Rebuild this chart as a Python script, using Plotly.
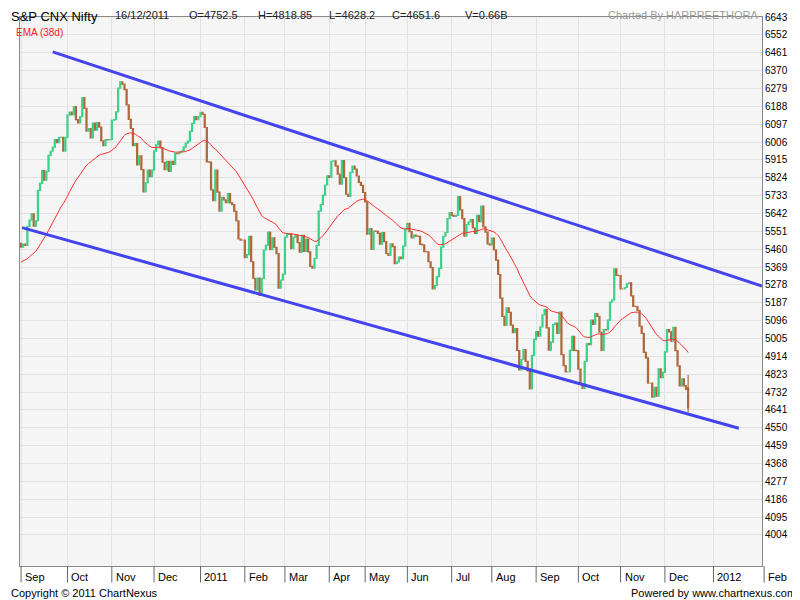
import plotly.graph_objects as go

month_labels = ["Sep", "Oct", "Nov", "Dec", "2011", "Feb", "Mar", "Apr", "May", "Jun",
                "Jul", "Aug", "Sep", "Oct", "Nov", "Dec", "2012", "Feb"]

closes_by_month = [
    [5471, 5486, 5479, 5576, 5608, 5640, 5577, 5604, 5760, 5795, 5860, 5812, 5857, 5938, 5959, 5980, 6018, 6003, 6029, 6030, 5960, 6030],
    [6143, 6159, 6145, 6186, 6120, 6103, 6135, 6233, 6177, 6062, 6075, 6027, 6102, 6066, 6105, 6082, 6012, 5988, 6018, 6017, 6018],
    [6117, 6120, 6160, 6281, 6312, 6301, 6273, 6195, 6121, 6075, 5988, 5998, 5890, 5935, 5865, 5752, 5799, 5863, 5830, 5863],
    [5960, 5992, 6011, 5976, 5903, 5865, 5907, 5857, 5907, 5892, 5948, 5947, 5955, 5960, 5980, 6000, 6011, 6060, 6101, 6135, 6120, 6135],
    [6157, 6147, 6080, 5905, 5904, 5762, 5707, 5863, 5751, 5654, 5724, 5711, 5697, 5743, 5696, 5687, 5653, 5604, 5512, 5506, 5506],
    [5417, 5432, 5526, 5396, 5312, 5253, 5313, 5225, 5311, 5456, 5481, 5547, 5458, 5518, 5469, 5437, 5262, 5303, 5333],
    [5522, 5536, 5538, 5463, 5520, 5531, 5494, 5445, 5531, 5449, 5511, 5446, 5373, 5364, 5413, 5480, 5654, 5687, 5736, 5787, 5834],
    [5826, 5908, 5910, 5885, 5842, 5792, 5911, 5824, 5740, 5729, 5851, 5884, 5868, 5833, 5800, 5785, 5749],
    [5701, 5537, 5565, 5459, 5552, 5551, 5541, 5486, 5544, 5499, 5438, 5429, 5487, 5473, 5386, 5395, 5420, 5412, 5476, 5560],
    [5592, 5550, 5517, 5532, 5527, 5526, 5485, 5482, 5448, 5447, 5396, 5366, 5258, 5275, 5320, 5362, 5471, 5526, 5545, 5616, 5647],
    [5632, 5627, 5632, 5728, 5660, 5616, 5526, 5585, 5599, 5611, 5568, 5541, 5633, 5600, 5680, 5574, 5547, 5487, 5482],
    [5516, 5456, 5404, 5331, 5211, 5118, 5072, 5161, 5138, 5073, 5035, 5056, 4944, 4845, 4898, 4948, 4888, 4840, 4748, 4919, 5001],
    [5040, 5017, 5064, 5125, 5153, 5059, 4946, 4987, 5076, 5084, 5031, 5140, 4923, 4867, 4835, 4835, 4945, 5016, 4945, 4943],
    [4849, 4772, 4751, 4888, 4979, 4974, 5099, 5077, 5132, 5118, 5037, 4945, 5050, 5049, 5099, 5191, 5202, 5360, 5327, 5326],
    [5258, 5258, 5265, 5284, 5289, 5222, 5169, 5168, 5148, 5068, 5031, 4934, 4906, 4778, 4778, 4706, 4756, 4711, 4851, 4805, 4832],
    [4937, 5050, 5039, 4992, 5062, 4943, 4866, 4764, 4800, 4764, 4746, 4652],
]
future_month_lengths = [23, 24]   # Dec 2011, Jan 2012 (axis slots)
first_open = 5490
last_open = 4752.5
last_high = 4818.85
last_low = 4628.2
ema_seed = 5390
ema_period = 38

upper_line = {"x": [15, 351], "y": [6465, 5272]}
lower_line = {"x": [0.5, 340], "y": [5570, 4548]}

y_ticks = [4004 + 91 * k for k in range(30)]

# ---- build series
closes = [c for m in closes_by_month for c in m]
n = len(closes)
opens = [first_open] + closes[:-1]
opens[-1] = last_open
highs = [max(o, c) for o, c in zip(opens, closes)]
lows = [min(o, c) for o, c in zip(opens, closes)]
highs[-1], lows[-1] = last_high, last_low
idx = list(range(n))

alpha = 2 / (ema_period + 1)
ema = []
e = ema_seed
for c in closes:
    e = e + alpha * (c - e)
    ema.append(e)

month_starts = []
pos = 0
for m in closes_by_month:
    month_starts.append(pos)
    pos += len(m)
pos = month_starts[-1]
for L in future_month_lengths:
    pos += L
    month_starts.append(pos)

# the figure lands 8px in from the page corner
OFF = 8
W, H = 800 - OFF, 600 - OFF
L_PX, R_PX, T_PX, B_PX = 20 - OFF, 762 - OFF, 17 - OFF, 566 - OFF
def px_x(p):
    return (p - OFF - L_PX) / (R_PX - L_PX)
def px_y(p):
    return (B_PX - (p - OFF)) / (B_PX - T_PX)

fig = go.Figure()
fig.add_trace(go.Candlestick(
    x=idx, open=opens, high=highs, low=lows, close=closes,
    increasing=dict(line=dict(color="#3dd28a", width=1.2), fillcolor="#3dd28a"),
    decreasing=dict(line=dict(color="#b0683a", width=1.2), fillcolor="#b0683a"),
    whiskerwidth=0, showlegend=False, hoverinfo="skip"))
fig.add_trace(go.Scatter(x=idx, y=ema, mode="lines",
                         line=dict(color="#ff3030", width=1), showlegend=False))
for ln in (upper_line, lower_line):
    fig.add_trace(go.Scatter(x=ln["x"], y=ln["y"], mode="lines",
                             line=dict(color="#4444ee", width=3), showlegend=False))

x_range = [-0.5, 351]
fig.update_xaxes(range=x_range, tickvals=month_starts, showticklabels=False,
                 showgrid=True, gridcolor="#e2e2e2", gridwidth=1, automargin=False,
                 rangeslider=dict(visible=False), zeroline=False,
                 showline=True, linecolor="#888", mirror=True, ticks="")
fig.update_yaxes(range=[3846, 6643], tickvals=y_ticks, side="right", automargin=False,
                 showgrid=True, gridcolor="#e2e2e2", zeroline=False,
                 showline=True, linecolor="#888", mirror=True, ticks="",
                 tickfont=dict(family="Liberation Sans, Arial", size=10, color="#000"))

FONT = "Liberation Sans, Arial"
ann = []
for v, lab in zip(month_starts, month_labels):
    xp = (v - x_range[0]) / (x_range[1] - x_range[0])
    ann.append(dict(x=xp, y=px_y(569), xref="paper", yref="paper", text=lab, showarrow=False,
                    xanchor="left", yanchor="top", xshift=2,
                    font=dict(family=FONT, size=11, color="#000")))
    ann.append(dict(x=xp, y=px_y(566), xref="paper", yref="paper", text="", showarrow=True,
                    ax=0, ay=18, arrowhead=0, arrowwidth=1, arrowcolor="#666",
                    axref="pixel", ayref="pixel"))
header = [("S&P CNX Nifty", 9, 13, "#000"), ("16/12/2011", 113, 11, "#222"),
          ("O=4752.5", 187, 11, "#222"), ("H=4818.85", 256, 11, "#222"),
          ("L=4628.2", 327, 11, "#222"), ("C=4651.6", 390, 11, "#222"),
          ("V=0.66B", 463, 11, "#222")]
for t, px, sz, col in header:
    ann.append(dict(x=px_x(px), y=px_y(7), xref="paper", yref="paper", text=t,
                    showarrow=False, xanchor="left", yanchor="top",
                    font=dict(family=FONT, size=sz, color=col)))
ann.append(dict(x=px_x(760), y=px_y(7), xref="paper", yref="paper",
                text="Charted By HARPREETHORA", showarrow=False, xanchor="right",
                yanchor="top", font=dict(family=FONT, size=11, color="#999")))
ann.append(dict(x=px_x(14), y=px_y(32), xref="paper", yref="paper", text="EMA (38d)",
                showarrow=False, xanchor="left", yanchor="middle",
                font=dict(family=FONT, size=10, color="#ff2020")))
ann.append(dict(x=px_x(9), y=px_y(593), xref="paper", yref="paper",
                text="Copyright © 2011 ChartNexus", showarrow=False, xanchor="left",
                yanchor="middle", font=dict(family=FONT, size=11, color="#000")))
ann.append(dict(x=px_x(798), y=px_y(593), xref="paper", yref="paper",
                text="Powered by www.chartnexus.com", showarrow=False, xanchor="right",
                yanchor="middle", font=dict(family=FONT, size=11, color="#000")))

fig.update_layout(width=W, height=H, paper_bgcolor="white", plot_bgcolor="#f5f5f5",
                  margin=dict(l=L_PX, r=W - R_PX, t=T_PX, b=H - B_PX),
                  annotations=ann, showlegend=False)
fig.write_html("out.html")
